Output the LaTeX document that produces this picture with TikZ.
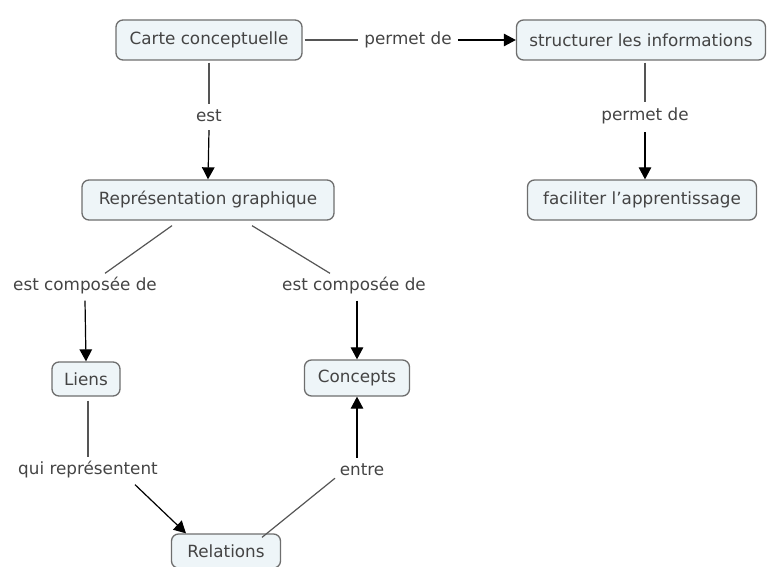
\documentclass[tikz,border=0pt]{standalone}
\usepackage{fontspec}
\setmainfont{DejaVu Sans}
\usetikzlibrary{arrows.meta}
\definecolor{boxfill}{HTML}{EEF5F8}
\definecolor{boxline}{HTML}{6E6E6E}
\definecolor{txt}{HTML}{444444}
\definecolor{conn}{HTML}{555555}
\tikzset{
  concept/.style={draw=boxline, line width=1.3pt, fill=boxfill, rounded corners=7pt,
    minimum height=40pt, inner xsep=4pt, text=txt, font=\fontsize{16.8}{18}\selectfont},
  linkl/.style={text=txt, font=\fontsize{16.8}{18}\selectfont, inner sep=2pt},
  conline/.style={draw=conn, line width=1.2pt},
  conarrow/.style={conline, -{Triangle[length=12pt,width=12.5pt]}, black}
}
\begin{document}
\begin{tikzpicture}[x=1pt,y=-1pt]
\useasboundingbox (0,0) rectangle (768,567);
\node[concept, minimum width=186pt] (carte) at (209,40) {Carte conceptuelle};
\node[concept, minimum width=249pt] (struct) at (641,40) {structurer les informations};
\node[concept, minimum width=252pt] (rep) at (208,200) {Représentation graphique};
\node[concept, minimum width=229pt] (facil) at (642,200) {faciliter l{\char"0027}apprentissage};
\node[concept, minimum width=68pt, minimum height=34pt] (liens) at (86,379) {Liens};
\node[concept, minimum width=105pt, minimum height=36pt] (concepts) at (357,378) {Concepts};
\node[concept, minimum width=109pt, minimum height=34pt] (relations) at (226,551) {Relations};

\node[linkl] (l1) at (408,40) {permet de};
\node[linkl] (l2) at (209,116) {est};
\node[linkl] (l3) at (645,116) {permet de};
\node[linkl] (l4) at (85,286) {est composée de};
\node[linkl] (l5) at (354,286) {est composée de};
\node[linkl] (l6) at (88,470) {qui représentent};
\node[linkl] (l7) at (362,470) {entre};

\draw[conline] ([xshift=2pt]carte.east) -- ([xshift=-4pt]l1.west);
\draw[conarrow] ([xshift=4pt]l1.east) -- (struct.west);
\draw[conline] ([yshift=-2pt]carte.south) -- ([yshift=4pt]l2.north);
\draw[conarrow] ([yshift=-6pt]l2.south) -- (rep.north);
\draw[conline] ([yshift=-2pt]l3.north |- struct.south) -- ([yshift=4pt]l3.north);
\draw[conarrow] ([yshift=-6pt]l3.south) -- (l3.south |- facil.north);
\draw[conline] ([xshift=-36pt,yshift=-5pt]rep.south) -- ([xshift=20pt,yshift=2pt]l4.north);
\draw[conarrow] ([yshift=-4pt]l4.south) -- (liens.north);
\draw[conline] ([xshift=44pt,yshift=-5pt]rep.south) -- ([xshift=-24pt,yshift=2pt]l5.north);
\draw[conarrow] ([xshift=3pt,yshift=-4pt]l5.south) -- (concepts.north);
\draw[conline] ([xshift=2pt,yshift=-4pt]liens.south) -- ([yshift=2pt]l6.north);
\draw[conarrow] ([xshift=47pt,yshift=-4pt]l6.south) -- ([xshift=-40pt]relations.north);
\draw[conline] ([xshift=36pt,yshift=-4pt]relations.north) -- ([xshift=-27pt]l7.south);
\draw[conarrow] ([xshift=-5pt,yshift=4pt]l7.north) -- (concepts.south);
\end{tikzpicture}
\end{document}
